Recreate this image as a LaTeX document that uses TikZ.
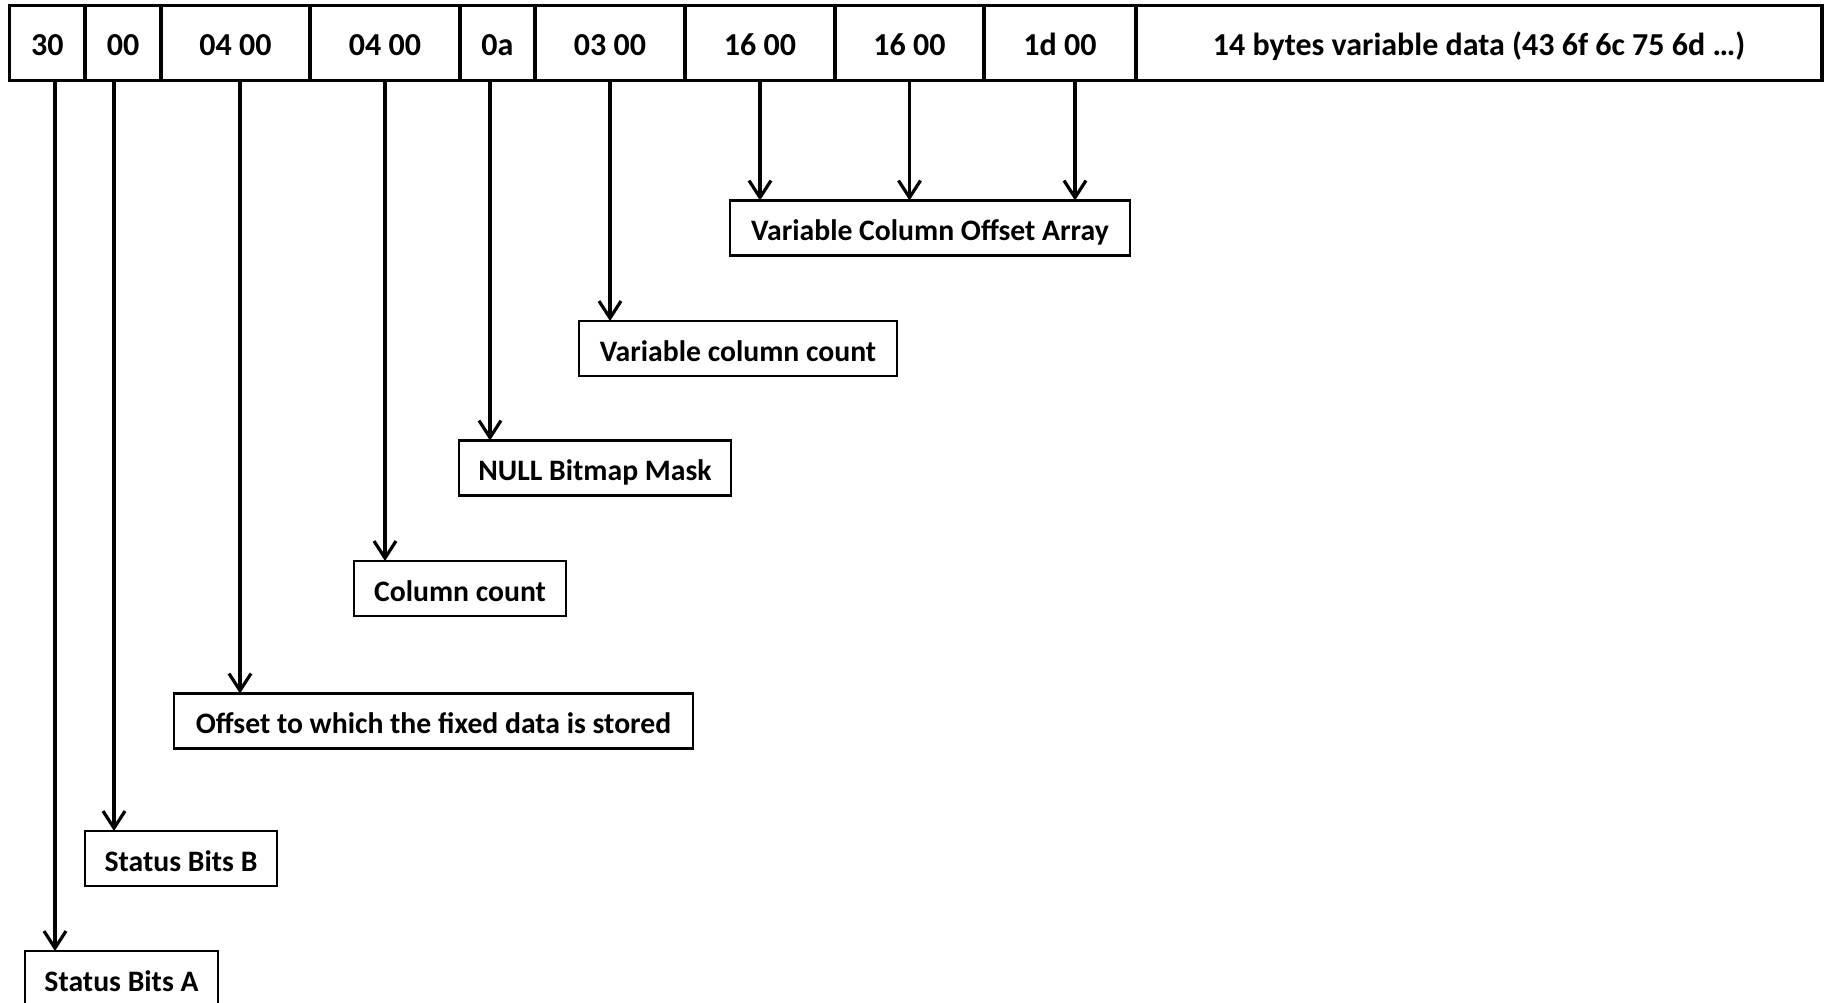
\documentclass[tikz,border=0pt]{standalone}
\usepackage{fontspec}
\setmainfont{Carlito}
\usetikzlibrary{arrows.meta}
\begin{document}
\begin{tikzpicture}[x=1pt,y=-1pt,
  every node/.style={inner sep=0pt, outer sep=0pt},
  cell/.style={draw, line width=3.4pt, minimum height=75pt,
    font=\fontsize{32}{38}\selectfont\bfseries, text height=26pt, text depth=0pt},
  label box/.style={draw, line width=2.2pt, minimum height=55pt,
    font=\fontsize{29.7}{35}\selectfont\bfseries, text height=25pt, text depth=0pt},
  arr/.style={line width=3.2pt, -{Straight Barb[length=17pt,width=22pt,line width=3.2pt]}}]
\useasboundingbox (0,0) rectangle (1829,1003);
\clip (0,0) rectangle (1829,1003);
% record layout strip
\node[cell, minimum width=75.5pt] (c1)  at (47.25,43) {30};
\node[cell, minimum width=76pt]   (c2)  at (123,43)   {00};
\node[cell, minimum width=149pt]  (c3)  at (235.5,43) {04 00};
\node[cell, minimum width=150pt]  (c4)  at (385,43)   {04 00};
\node[cell, minimum width=75pt]   (c5)  at (497.5,43) {0a};
\node[cell, minimum width=150pt]  (c6)  at (610,43)   {03 00};
\node[cell, minimum width=150pt]  (c7)  at (760,43)   {16 00};
\node[cell, minimum width=149pt]  (c8)  at (909.5,43) {16 00};
\node[cell, minimum width=152pt]  (c9)  at (1060,43)  {1d 00};
\node[cell, minimum width=686pt]  (c10) at (1479,43)  {14 bytes variable data (43 6f 6c 75 6d …)};
% field descriptions
\node[label box, minimum width=193pt] (sba)  at (121.5,978.5) {Status Bits A};
\node[label box, minimum width=192pt] (sbb)  at (181,858.5)   {Status Bits B};
\node[label box, minimum width=519pt] (off)  at (433.5,721)   {Offset to which the fixed data is stored};
\node[label box, minimum width=212pt] (cc)   at (460,588.5)   {Column count};
\node[label box, minimum width=272pt] (nbm)  at (595,468)     {NULL Bitmap Mask};
\node[label box, minimum width=318pt] (vcc)  at (738,348.5)   {Variable column count};
\node[label box, minimum width=400pt] (vcoa) at (930,228)     {Variable Column Offset Array};
% pointers from bytes to descriptions
\draw[arr] ([xshift=7.75pt]c1.south) -- ([xshift=7.75pt]c1.south |- sba.north);
\draw[arr] ([xshift=-9pt]c2.south)   -- ([xshift=-9pt]c2.south |- sbb.north);
\draw[arr] ([xshift=4.5pt]c3.south)  -- ([xshift=4.5pt]c3.south |- off.north);
\draw[arr] (c4.south) -- (c4.south |- cc.north);
\draw[arr] ([xshift=-7.5pt]c5.south) -- ([xshift=-7.5pt]c5.south |- nbm.north);
\draw[arr] (c6.south) -- (c6.south |- vcc.north);
\draw[arr] (c7.south) -- (c7.south |- vcoa.north);
\draw[arr] (c8.south) -- (c8.south |- vcoa.north);
\draw[arr] ([xshift=15pt]c9.south)   -- ([xshift=15pt]c9.south |- vcoa.north);
\end{tikzpicture}
\end{document}
